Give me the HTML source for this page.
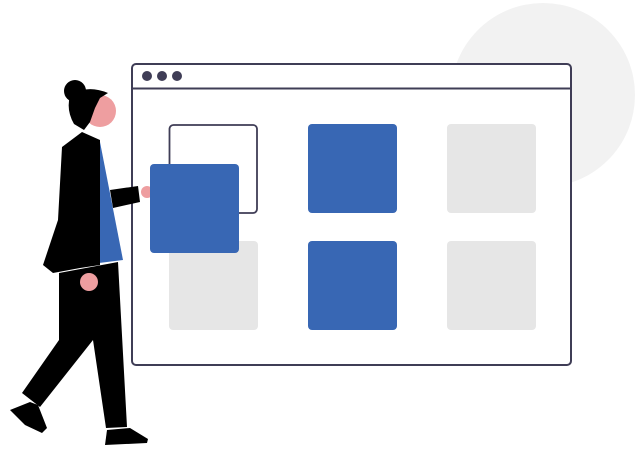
<!DOCTYPE html>
<html><head><meta charset="utf-8"><style>html,body{margin:0;padding:0;background:#fff;}svg{display:block}</style></head>
<body>
<svg width="644" height="450" viewBox="0 0 644 450" xmlns="http://www.w3.org/2000/svg">
<circle cx="543" cy="95" r="92" fill="#f2f2f2"/>
<rect x="132" y="64" width="439" height="301" rx="4" fill="#fff" stroke="#3f3d56" stroke-width="2"/>
<line x1="132" y1="88.5" x2="571" y2="88.5" stroke="#3f3d56" stroke-width="2"/>
<circle cx="147" cy="76" r="5" fill="#3f3d56"/>
<circle cx="162" cy="76" r="5" fill="#3f3d56"/>
<circle cx="177" cy="76" r="5" fill="#3f3d56"/>
<rect x="169.5" y="125" width="87.5" height="88" rx="4" fill="#fff" stroke="#3f3d56" stroke-width="1.8"/>
<rect x="308" y="124" width="89" height="89" rx="4" fill="#3867b4"/>
<rect x="447" y="124" width="89" height="89" rx="4" fill="#e6e6e6"/>
<rect x="169" y="241" width="89" height="89" rx="4" fill="#e6e6e6"/>
<rect x="308" y="241" width="89" height="89" rx="4" fill="#3867b4"/>
<rect x="447" y="241" width="89" height="89" rx="4" fill="#e6e6e6"/>
<!-- person -->
<polygon points="59,273 118,262 127,427 106,428 93,340 40,407 22,393 59,340" fill="#000"/>
<polygon points="10,410 30,402 38,405 47,428 42,433 25,425" fill="#000"/>
<polygon points="107,430 130,428 148,439 147,443 105,445" fill="#000"/>
<polygon points="100,142 123,260 99,263" fill="#3867b4"/>
<polygon points="110,190 138,186 140,202 113,208" fill="#000"/>
<circle cx="147" cy="192" r="6" fill="#ee9ea0"/>
<polygon points="62,147 82,132 100,140 100,265 80,268 53,273 43,265 58,220" fill="#000"/>
<circle cx="89" cy="282" r="9" fill="#ee9ea0"/>
<circle cx="100" cy="111" r="16" fill="#ee9ea0"/>
<path d="M70,96 Q86,84 108,93 L100,98 L95,108 L90,122 L84,130 L74,124 Q66,110 70,96 Z" fill="#000"/>
<circle cx="75" cy="91" r="11" fill="#000"/>
<rect x="150" y="164" width="89" height="89" rx="4" fill="#3867b4"/>
</svg>
</body></html>
